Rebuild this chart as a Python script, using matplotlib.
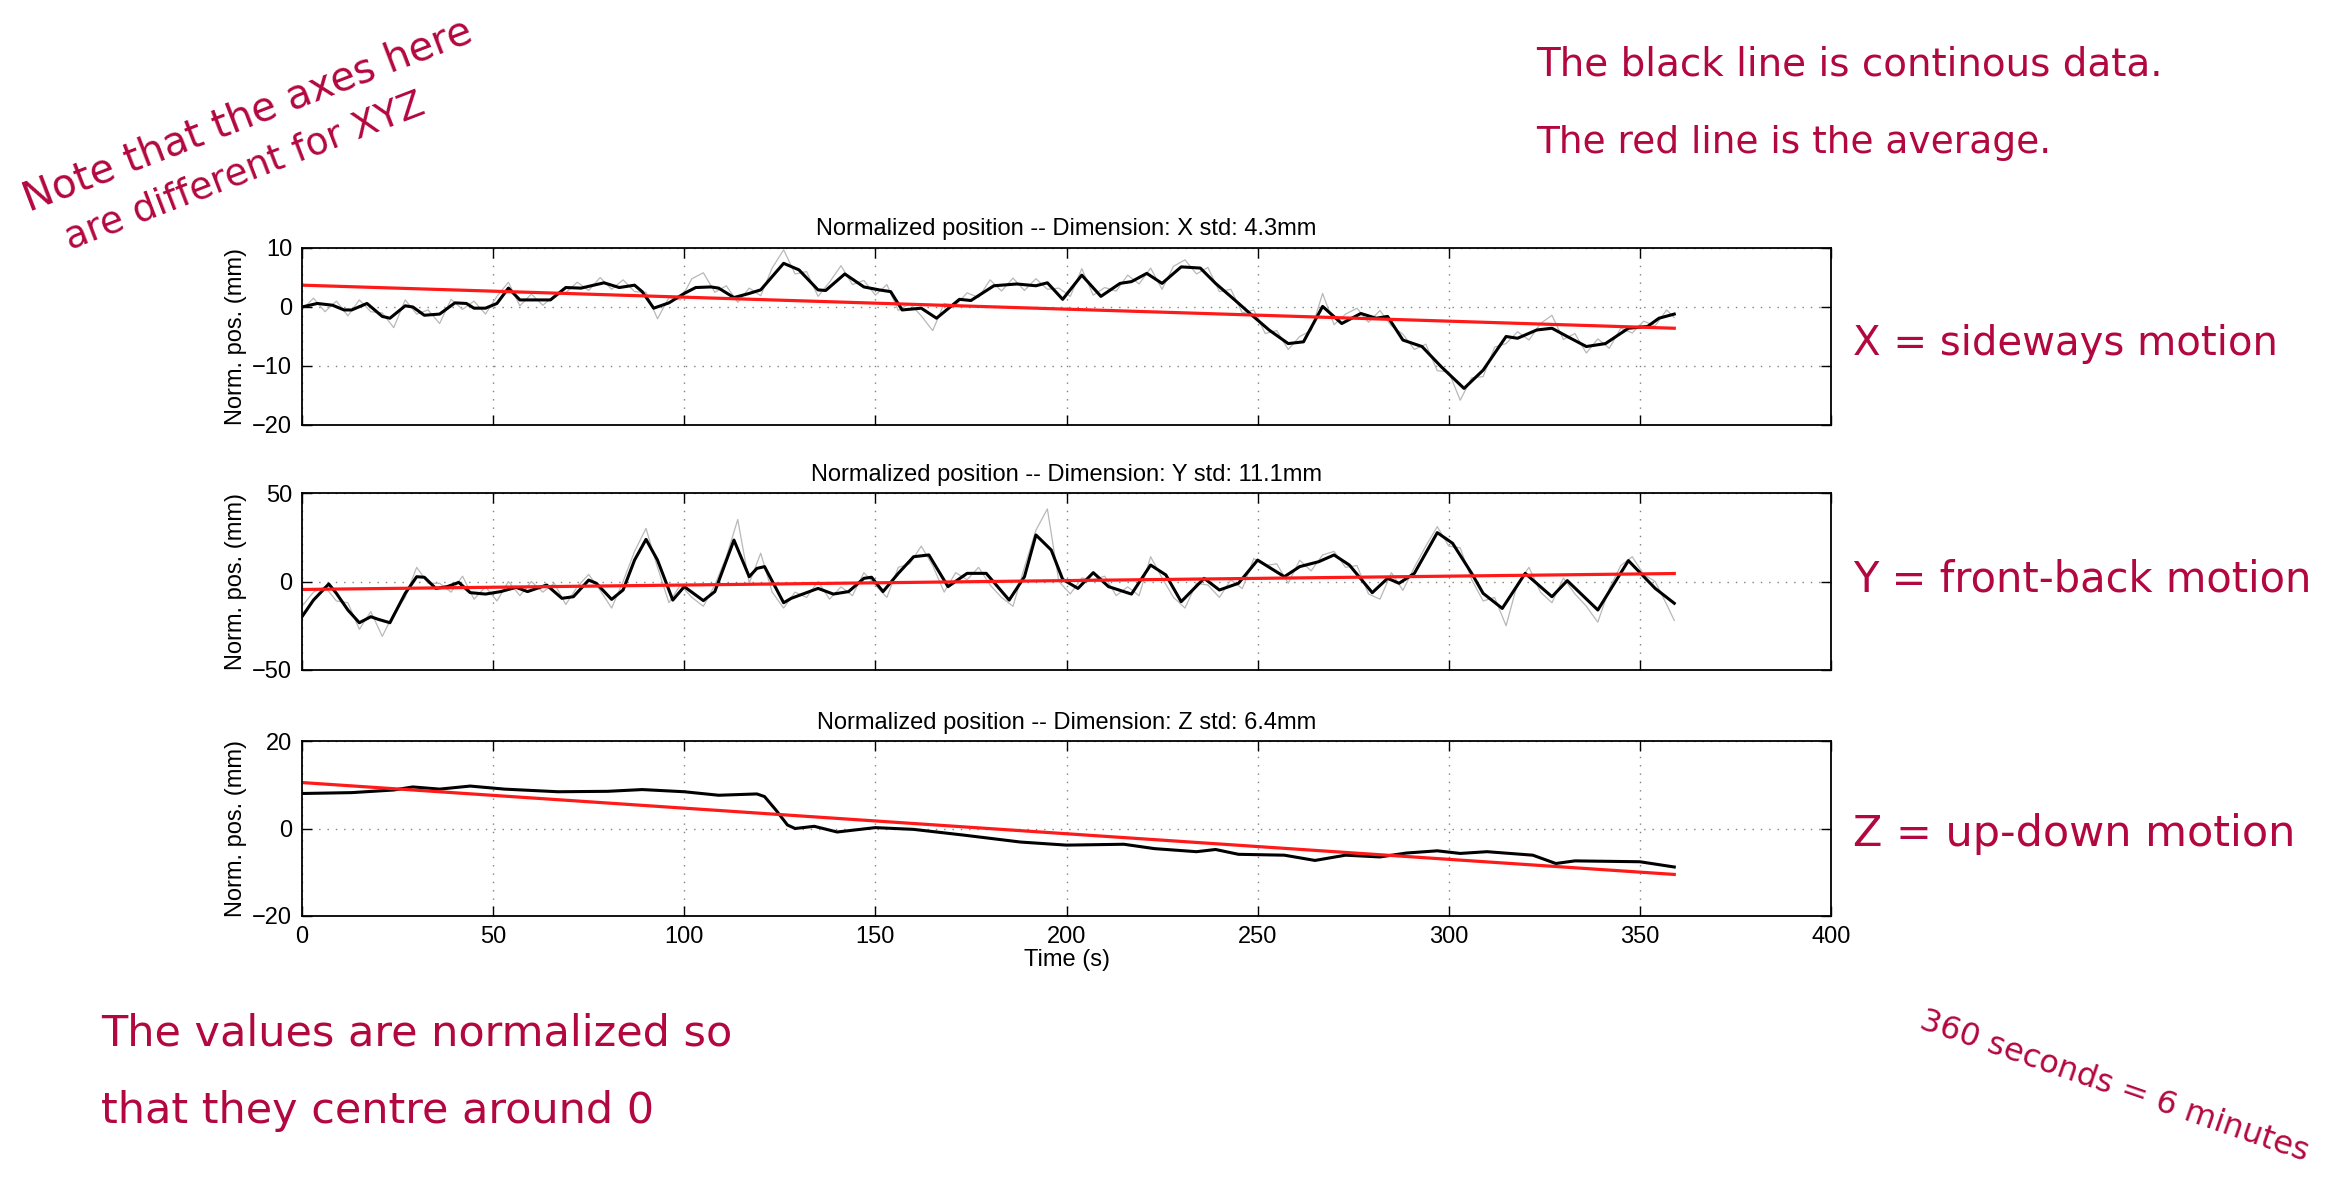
import numpy as np
import matplotlib
matplotlib.use("Agg")
import matplotlib.pyplot as plt

plt.rcParams['font.family'] = ['Liberation Sans', 'DejaVu Sans']

# ---- data ----
# X dimension, smoothed (black)
x_t = [0, 4, 8, 11, 13, 17, 21, 23, 27, 29, 32, 36, 40, 43, 45, 48, 51, 54, 57, 61, 65,
       69, 73, 79, 83, 87, 89, 92, 96, 100, 103, 107, 109, 113, 117, 120, 126, 130, 135,
       137, 142, 147, 151, 154, 157, 162, 166, 172, 175, 181, 187, 192, 195, 199, 204,
       209, 214, 217, 221, 225, 230, 235, 239, 244, 248, 253, 258, 262, 267, 272, 277,
       281, 284, 288, 293, 298, 304, 309, 315, 318, 323, 327, 331, 336, 341, 347, 352,
       355, 359]
x_v = [0.0, 0.6, 0.3, -0.5, -0.5, 0.6, -1.6, -1.9, 0.2, 0.0, -1.4, -1.2, 0.7, 0.6, -0.2,
       -0.2, 0.6, 3.2, 1.2, 1.2, 1.2, 3.3, 3.2, 4.1, 3.3, 3.7, 2.6, -0.2, 0.7, 2.3, 3.3,
       3.4, 3.2, 1.6, 2.3, 2.9, 7.4, 6.3, 2.9, 2.8, 5.6, 3.4, 2.9, 2.6, -0.5, -0.2, -1.9,
       1.3, 1.1, 3.6, 3.9, 3.6, 4.1, 1.3, 5.4, 1.8, 4.0, 4.3, 5.7, 4.0, 6.8, 6.6, 4.0, 1.2,
       -1.1, -3.9, -6.2, -5.9, 0.1, -2.8, -1.1, -1.9, -1.6, -5.6, -6.7, -10.1, -13.8,
       -10.7, -5.0, -5.3, -3.9, -3.6, -5.0, -6.7, -6.2, -3.6, -3.3, -1.9, -1.2]

# raw samples (grey), read every 3 s
raw_t = list(range(0, 360, 3)) + [359]
x_raw = [-0.5, 1.5, -0.8, 1.0, -1.5, 1.2, -0.8, -1.0, -3.5, 1.2, -1.2, -0.5, -2.8, 1.3,
         -0.4, 1.0, -1.2, 1.8, 4.2, 0.2, 2.2, 0.3, 1.9, 2.4, 4.2, 2.8, 5.0, 3.0, 4.6, 2.6,
         2.5, -2.0, 1.6, 1.2, 4.8, 5.8, 2.5, 3.6, 0.8, 3.2, 1.9, 6.6, 9.7, 5.6, 6.0, 1.8,
         4.2, 7.0, 3.8, 4.5, 2.0, 3.8, -0.6, 0.6, -1.5, -4.0, 0.6, 0.3, 2.4, 1.6, 4.6, 2.7,
         4.9, 2.8, 4.8, 3.0, 3.2, 1.8, 6.5, 2.0, 3.3, 2.7, 5.4, 3.9, 6.6, 3.0, 6.9, 8.0,
         5.6, 6.7, 2.6, 3.0, -1.0, -0.5, -4.5, -4.0, -7.2, -5.0, -4.0, 2.3, -3.0, -1.2,
         -0.2, -2.6, -0.6, -3.2, -4.6, -7.2, -6.3, -10.8, -11.0, -15.8, -12.0, -11.8, -6.8,
         -6.2, -4.2, -5.6, -2.8, -1.4, -5.5, -4.5, -7.8, -5.4, -7.0, -3.6, -4.4, -2.4,
         -3.2, -0.5, -1.8]

# Y dimension, smoothed (black)
y_t = [0, 3, 7, 9, 12, 15, 18, 20, 23, 27, 30, 32, 35, 38, 41, 44, 48, 52, 56, 59, 64,
       68, 71, 75, 77, 81, 84, 87, 90, 93, 97, 100, 105, 108, 113, 117, 119, 121, 126,
       128, 135, 139, 143, 147, 149, 152, 156, 160, 164, 169, 174, 179, 185, 189, 192,
       196, 199, 203, 207, 211, 217, 222, 226, 230, 236, 240, 245, 250, 257, 261, 266,
       270, 274, 280, 284, 287, 291, 297, 301, 306, 309, 314, 320, 327, 331, 339, 347,
       354, 359]
y_v = [-19.9, -10.5, -1.4, -6.7, -16.1, -23.3, -19.9, -21.4, -23.3, -6.7, 2.7, 2.4, -3.9,
       -2.9, -0.5, -6.3, -7.1, -5.7, -3.3, -5.7, -2.0, -9.5, -8.6, 0.8, -1.0, -10.1, -4.8,
       12.1, 23.8, 12.1, -10.5, -2.9, -10.8, -5.7, 23.4, 2.7, 7.4, 8.4, -12.0, -9.5, -3.9,
       -7.1, -5.7, 1.8, 2.4, -5.7, 4.6, 14.0, 15.0, -2.9, 4.6, 4.6, -10.5, 2.7, 26.3,
       17.8, 1.2, -3.9, 5.0, -2.9, -7.1, 9.3, 3.7, -11.4, 1.8, -4.8, -1.0, 12.1, 2.7, 8.4,
       11.2, 15.0, 9.3, -6.3, 1.8, -1.0, 4.6, 27.6, 21.6, 4.6, -6.7, -15.2, 4.6, -8.6,
       0.5, -16.1, 11.8, -3.9, -12.3]
y_raw = [-14, -6, -3, -11, -12, -27, -17, -31, -18, -9, 8, -1, -1, -6, 3, -10, -3, -11, 0,
         -8, 0, -6, -1, -13, -3, 4, -5, -15, 0, 17, 30, 8, -12, -2, -9, -14, -2, 14, 35,
         -1, 16, -6, -15, -6, -9, 0, -10, -3, -8, 5, -2, -9, 8, 10, 20, 9, -6, 5, 1, 8, -2,
         -9, -14, 8, 29, 41, 0, -7, 2, 1, 3, -8, -3, -8, 14, 2, -9, -15, -1, -2, -9, 1, -4,
         13, 9, 10, -1, 12, 6, 15, 17, 8, 9, -7, -10, 5, -5, 8, 20, 31, 20, 19, 1, -11,
         -9, -25, -1, 8, -6, -12, 2, -7, -14, -23, -4, 9, 14, 4, 0, -13, -22]

# Z dimension, smoothed (black)
z_t = [0, 13, 24, 29, 36, 44, 53, 67, 80, 89, 100, 109, 119, 121, 124, 127, 129, 134,
       140, 150, 160, 173, 188, 200, 215, 223, 234, 239, 245, 257, 265, 273, 282, 289,
       297, 303, 310, 322, 328, 333, 350, 359]
z_v = [8.0, 8.2, 8.8, 9.5, 9.0, 9.7, 9.0, 8.4, 8.5, 8.9, 8.4, 7.6, 7.9, 7.3, 4.2, 0.8,
       0.0, 0.5, -0.8, 0.2, -0.2, -1.5, -3.1, -3.8, -3.6, -4.6, -5.3, -4.8, -5.9, -6.1,
       -7.3, -6.1, -6.5, -5.6, -5.1, -5.7, -5.3, -6.1, -8.0, -7.4, -7.6, -8.8]

# linear trend (red), value at start and end
fit_t = [0, 359]
x_fit = [3.7, -3.6]
y_fit = [-4.5, 4.5]
z_fit = [10.5, -10.5]

dims = ['X', 'Y', 'Z']
stds = ['4.3', '11.1', '6.4']
ylims = [(-20, 10), (-50, 50), (-20, 20)]
yticks = [[-20, -10, 0, 10], [-50, 0, 50], [-20, 0, 20]]
xticks = [0, 50, 100, 150, 200, 250, 300, 350, 400]

W, H = 2338, 1180
fig = plt.figure(figsize=(W / 100, H / 100), dpi=100)

# axes boxes in pixels: (left, top, right, bottom)
boxes = [(302, 248, 1831, 425), (302, 493, 1831, 670), (302, 741, 1831, 916)]

series = [(x_t, x_v, x_raw, x_fit), (y_t, y_v, y_raw, y_fit), (z_t, z_v, None, z_fit)]

for i, (l, t, r, b) in enumerate(boxes):
    ax = fig.add_axes([l / W, 1 - b / H, (r - l) / W, (b - t) / H])
    st, sv, raw, fit = series[i]
    if raw is not None:
        ax.plot(raw_t, raw, color='#b8b8b8', lw=0.9)
    ax.plot(st, sv, color='black', lw=2.2, solid_joinstyle='round')
    ax.plot(fit_t, fit, color='#ff1a1a', lw=2.3)
    ax.set_xlim(0, 400)
    ax.set_ylim(*ylims[i])
    ax.set_xticks(xticks)
    ax.set_yticks(yticks[i])
    ax.grid(True, color='#808080', linestyle=(0, (1, 5)), lw=1.0)
    ax.tick_params(direction='in', length=7, width=1, top=True, right=True,
                   labelsize=17, pad=7)
    if i < 2:
        ax.set_xticklabels([])
    else:
        ax.set_xlabel('Time (s)', fontsize=17, labelpad=1)
    ax.set_yticklabels([str(v).replace('-', '\u2212') for v in yticks[i]])
    ax.set_ylabel('Norm. pos. (mm)', fontsize=17, labelpad=4)
    ax.set_title('Normalized position -- Dimension: %s std: %smm' % (dims[i], stds[i]),
                 fontsize=17, pad=9)
    for s in ax.spines.values():
        s.set_linewidth(1.3)

# handwritten notes
ink = '#b3073f'

def note(x, y, s, size, rot=0, ha='left'):
    fig.text(x / W, 1 - y / H, s, rotation=rot, ha=ha, va='center',
             rotation_mode='anchor', color=ink, fontsize=size, family=['DejaVu Sans'])

note(248, 116, 'Note that the axes here', 29, rot=21, ha='center')
note(245, 172, 'are different for XYZ', 27, rot=21, ha='center')
note(1536, 64, 'The black line is continous data.', 28)
note(1536, 143, 'The red line is the average.', 27)
note(1853, 344, 'X = sideways motion', 29)
note(1853, 579, 'Y = front-back motion', 30)
note(1853, 834, 'Z = up-down motion', 31)
note(101, 1033, 'The values are normalized so', 31)
note(101, 1111, 'that they centre around 0', 31)
note(2114, 1087, '360 seconds = 6 minutes', 23, rot=-19, ha='center')

fig.savefig('out.png', dpi=100)
